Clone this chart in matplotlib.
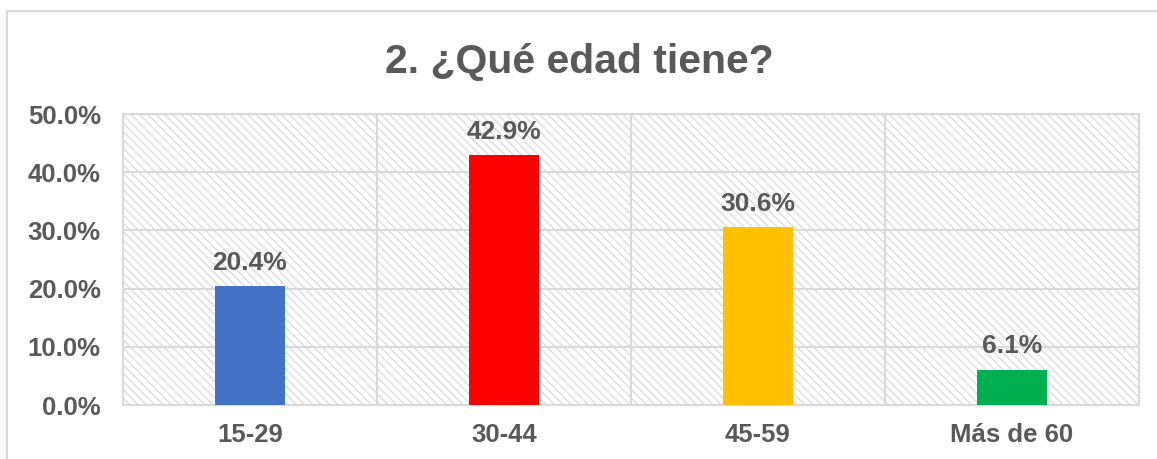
import matplotlib.pyplot as plt
from matplotlib.patches import Rectangle
from matplotlib.ticker import FuncFormatter

# datos de la encuesta
categorias = ['15-29', '30-44', '45-59', 'Más de 60']
porcentajes = [0.204, 0.429, 0.306, 0.061]
colores = ['#4472C4', '#FF0000', '#FFC000', '#00B050']
titulo = '2. ¿Qué edad tiene?'

gris_texto = '#595959'
gris_linea = '#D9D9D9'

plt.rcParams['font.family'] = ['Liberation Sans', 'DejaVu Sans']
plt.rcParams['hatch.linewidth'] = 0.8

fig = plt.figure(figsize=(11.57, 4.59), dpi=100)
ax = fig.add_axes([0.1063, 0.1176, 0.8781, 0.634])

# fondo rayado del area de trazado
ax.add_patch(Rectangle((0, 0), 1, 1, transform=ax.transAxes, facecolor='white',
                       edgecolor='#D6D6D6', hatch='\\\\\\\\', linewidth=0, zorder=0))

x = range(len(categorias))
ax.bar(x, porcentajes, width=0.276, color=colores, zorder=3)

for i, v in enumerate(porcentajes):
    ax.annotate('{:.1%}'.format(v), (i, v), xytext=(0, 8), textcoords='offset points',
                ha='center', va='bottom', fontsize=19, fontweight='bold', color=gris_texto)

ax.set_xlim(-0.5, len(categorias) - 0.5)
ax.set_ylim(0, 0.5)
ax.set_xticks(list(x))
ax.set_xticklabels(categorias)
ax.set_xticks([i + 0.5 for i in range(len(categorias) - 1)], minor=True)
ax.set_yticks([0, 0.1, 0.2, 0.3, 0.4, 0.5])
ax.yaxis.set_major_formatter(FuncFormatter(lambda v, p: '{:.1%}'.format(v)))

ax.tick_params(axis='both', which='both', length=0, labelsize=18.5, labelcolor=gris_texto)
ax.tick_params(axis='y', pad=16)
ax.tick_params(axis='x', pad=13)
for lab in ax.get_xticklabels() + ax.get_yticklabels():
    lab.set_fontweight('bold')

ax.grid(axis='y', which='major', color=gris_linea, linewidth=1.5, zorder=1)
ax.grid(axis='x', which='minor', color=gris_linea, linewidth=1.5, zorder=1)
ax.set_axisbelow(True)
for s in ax.spines.values():
    s.set_color(gris_linea)
    s.set_linewidth(1.5)

fig.text(0.501, 0.865, titulo, ha='center', va='center', fontsize=29.5,
         fontweight='bold', color=gris_texto)

# borde exterior del grafico
fig.add_artist(Rectangle((0.006, -0.2), 1.2, 1.176, transform=fig.transFigure,
                         fill=False, edgecolor=gris_linea, linewidth=1.5))

fig.savefig('out.png', dpi=100)
